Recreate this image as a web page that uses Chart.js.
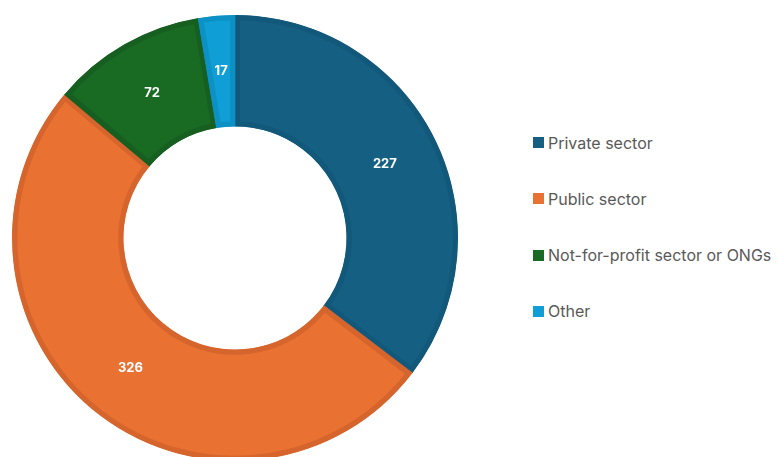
<!DOCTYPE html>
<html>
<head>
<meta charset="utf-8">
<script src="https://cdn.jsdelivr.net/npm/chart.js@4"></script>
<style>
html,body{margin:0;padding:0;background:#fff;overflow:hidden;width:777px;height:457px}
#wrap{position:absolute;left:0;top:0;width:470px;height:476px}
#legend{position:absolute;left:533px;top:0;font-family:Inter,'Open Sans',sans-serif;font-size:16px;color:#595959}
.item{position:absolute;left:0;height:20px;line-height:20px;white-space:nowrap;display:flex;align-items:center}
.box{width:11px;height:11px;margin-right:4px;flex:none}
</style>
</head>
<body>
<div id="wrap"><canvas id="sectorChart" width="470" height="476"></canvas></div>
<div id="legend"></div>
<script>
const sectors = ['Private sector','Public sector','Not-for-profit sector or ONGs','Other'];
const counts = [227, 326, 72, 17];
const fills = ['#156082','#e97132','#196b24','#0f9ed5'];
const edges = ['#12587a','#d5652c','#165f20','#0d91c5'];

// white count in the middle of each slice
const sliceLabels = {
  id:'sliceLabels',
  afterDatasetsDraw(chart){
    const {ctx} = chart;
    const meta = chart.getDatasetMeta(0);
    ctx.save();
    ctx.fillStyle = '#fff';
    ctx.font = 'bold 13px Inter, "Open Sans", sans-serif';
    ctx.textAlign = 'center';
    ctx.textBaseline = 'middle';
    meta.data.forEach((arc,i)=>{
      const p = arc.tooltipPosition();
      ctx.fillText(String(counts[i]), p.x, p.y);
    });
    ctx.restore();
  }
};

const chart = new Chart(document.getElementById('sectorChart'), {
  type:'doughnut',
  data:{labels:sectors, datasets:[{
    data:counts,
    backgroundColor:fills,
    borderColor:edges,
    borderWidth:5,
    borderAlign:'inner',
    hoverOffset:0,
    offset:0
  }]},
  options:{
    responsive:false,
    animation:false,
    cutout:'50%',
    layout:{padding:{left:12,right:12,top:15,bottom:15}},
    plugins:{legend:{display:false},tooltip:{enabled:false}}
  },
  plugins:[sliceLabels]
});

// legend on the right
const legend = document.getElementById('legend');
legend.innerHTML = sectors.map((s,i)=>`<div class="item" style="top:${(132.5+i*56.3).toFixed(1)}px"><span class="box" style="background:${fills[i]}"></span>${s}</div>`).join('');
</script>
</body>
</html>
